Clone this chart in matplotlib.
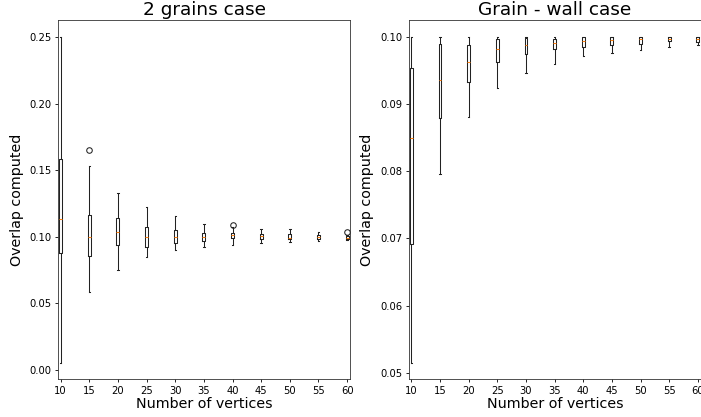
import matplotlib
matplotlib.use("Agg")
import matplotlib.pyplot as plt

vertices = [10, 15, 20, 25, 30, 35, 40, 45, 50, 55, 60]

# 2 grains case: box statistics of the computed overlap
g2_whislo = [0.0050, 0.0585, 0.0750, 0.0845, 0.0900, 0.0920, 0.0938, 0.0955, 0.0958, 0.0965, 0.0975]
g2_q1     = [0.0875, 0.0855, 0.0938, 0.0920, 0.0950, 0.0965, 0.0988, 0.0983, 0.0980, 0.0980, 0.0985]
g2_med    = [0.1133, 0.1000, 0.1033, 0.1000, 0.0998, 0.0995, 0.1010, 0.1005, 0.0993, 0.0995, 0.0993]
g2_q3     = [0.1588, 0.1163, 0.1138, 0.1070, 0.1050, 0.1025, 0.1025, 0.1018, 0.1020, 0.1010, 0.1005]
g2_whishi = [0.2505, 0.1533, 0.1330, 0.1220, 0.1158, 0.1093, 0.1070, 0.1055, 0.1055, 0.1035, 0.1015]
g2_fliers = [[], [0.1650], [], [], [], [], [0.1088], [], [], [], [0.1033]]

# grain - wall case
gw_whislo = [0.0515, 0.0796, 0.0880, 0.0923, 0.0946, 0.0960, 0.0971, 0.0976, 0.0980, 0.0984, 0.0987]
gw_q1     = [0.0692, 0.0879, 0.0933, 0.0963, 0.0974, 0.0981, 0.0984, 0.0987, 0.0989, 0.0993, 0.0992]
gw_med    = [0.0849, 0.0935, 0.0963, 0.0982, 0.0988, 0.0990, 0.0994, 0.0995, 0.0997, 0.0997, 0.0996]
gw_q3     = [0.0954, 0.0989, 0.0987, 0.0996, 0.0998, 0.0997, 0.0999, 0.1000, 0.0999, 0.1000, 0.0999]
gw_whishi = [0.1000, 0.1000, 0.1000, 0.1000, 0.1000, 0.1000, 0.1000, 0.1000, 0.1000, 0.1000, 0.1000]
gw_fliers = [[] for _ in vertices]


def make_stats(lo, q1, med, q3, hi, fl):
    return [dict(whislo=a, q1=b, med=c, q3=d, whishi=e, fliers=f)
            for a, b, c, d, e, f in zip(lo, q1, med, q3, hi, fl)]


fig = plt.figure(figsize=(7.01, 4.17), dpi=100)
ax1 = fig.add_axes([0.0832, 0.0904, 0.4161, 0.8609])
ax2 = fig.add_axes([0.5835, 0.0904, 0.4161, 0.8609])

lw = 0.75
props = dict(
    boxprops=dict(linewidth=lw, color="#222222"),
    whiskerprops=dict(linewidth=lw, color="#222222"),
    capprops=dict(linewidth=lw, color="#222222"),
    medianprops=dict(linewidth=lw, color="#ff7f0e"),
    flierprops=dict(marker="o", markersize=4, markerfacecolor="none",
                    markeredgecolor="#222222", markeredgewidth=lw),
)

panels = [
    (ax1, make_stats(g2_whislo, g2_q1, g2_med, g2_q3, g2_whishi, g2_fliers), "2 grains case"),
    (ax2, make_stats(gw_whislo, gw_q1, gw_med, gw_q3, gw_whishi, gw_fliers), "Grain - wall case"),
]

for ax, stats, title in panels:
    ax.bxp(stats, positions=vertices, widths=0.5, **props)
    ax.set_xlim(9.6, 60.5)
    ax.set_xticks(vertices)
    ax.set_xticklabels([str(v) for v in vertices])
    ax.tick_params(labelsize=7.2, width=0.6, length=2.5, pad=2.5)
    ax.set_title(title, fontsize=13.3, pad=3.5)
    ax.set_xlabel("Number of vertices", fontsize=10.3, labelpad=0.5)
    ax.set_ylabel("Overlap computed", fontsize=10.3, labelpad=4)
    for s in ax.spines.values():
        s.set_linewidth(0.6)
        s.set_color("#333333")
    ax.autoscale(axis="y")
    ax.margins(y=0.05)

fig.savefig("out.png", dpi=100)
